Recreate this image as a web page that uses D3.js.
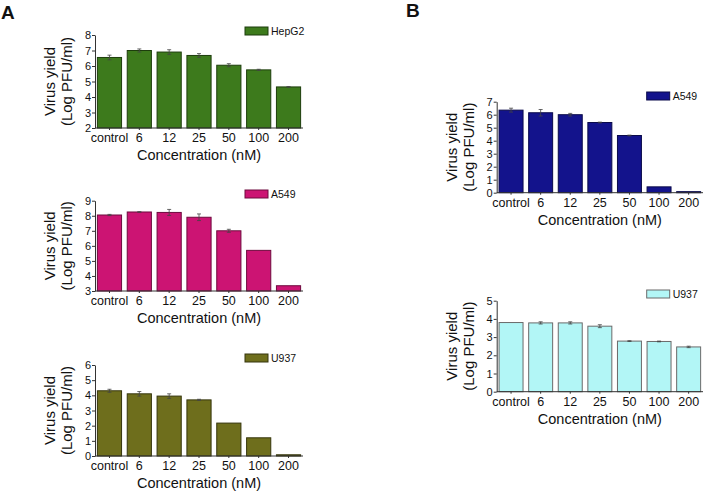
<!DOCTYPE html>
<html><head><meta charset="utf-8">
<script src="https://cdn.jsdelivr.net/npm/d3@7"></script>
<style>body{margin:0;background:#fff}svg{display:block}text{font-family:"Liberation Sans",Arial,sans-serif;fill:#111}</style>
</head><body>
<svg id="c" width="711" height="495"></svg>
<script>
const categories = ["control","6","12","25","50","100","200"];
const hepg2    = [6.55, 7.0, 6.9, 6.68, 6.05, 5.75, 4.65];
const hepg2Err = [0.15, 0.1, 0.15, 0.12, 0.1, 0.04, 0.02];
const a549A    = [8.05, 8.25, 8.22, 7.9, 7.0, 5.7, 3.35];
const a549AErr = [0.04, 0.02, 0.2, 0.22, 0.1, 0, 0];
const u937A    = [4.3, 4.1, 3.95, 3.7, 2.17, 1.2, 0.08];
const u937AErr = [0.1, 0.15, 0.15, 0.04, 0, 0, 0];
const a549B    = [6.35, 6.15, 6.0, 5.4, 4.4, 0.45, 0.08];
const a549BErr = [0.15, 0.25, 0.1, 0.03, 0.03, 0, 0];
const u937B    = [3.8, 3.78, 3.78, 3.6, 2.78, 2.76, 2.46];
const u937BErr = [0, 0.06, 0.06, 0.08, 0.02, 0.02, 0.04];
const panelLabels = ["A","B"];
const yTitle = ["Virus yield","(Log PFU/ml)"];
const xTitle = "Concentration (nM)";

const panels = [
  {name:"HepG2", vals:hepg2, err:hepg2Err, dom:[2,8], fill:"#3d7a1c", stroke:"#1d3d0c", x0:95, x1:303, top:35, bot:128, ly:27},
  {name:"A549",  vals:a549A, err:a549AErr, dom:[3,9], fill:"#cc1473", stroke:"#6e0a3e", x0:95, x1:303, top:200.7, bot:291, ly:190},
  {name:"U937",  vals:u937A, err:u937AErr, dom:[0,6], fill:"#6e6e1c", stroke:"#35350c", x0:95, x1:303, top:365, bot:456, ly:354},
  {name:"A549",  vals:a549B, err:a549BErr, dom:[0,7], fill:"#13138c", stroke:"#0a0a4a", x0:496.7, x1:703, top:101.7, bot:192.7, ly:92},
  {name:"U937",  vals:u937B, err:u937BErr, dom:[0,5], fill:"#b2f6f6", stroke:"#6a6a6a", x0:496.7, x1:703, top:300.7, bot:391.7, ly:290}
];

const svg = d3.select("#c");
svg.append("text").attr("x",1).attr("y",19).style("font-size","19px").style("font-weight","bold").text(panelLabels[0]);
svg.append("text").attr("x",406).attr("y",17).style("font-size","19px").style("font-weight","bold").text(panelLabels[1]);

panels.forEach(p => {
  const x = d3.scaleBand().domain(categories).range([p.x0, p.x1]).paddingInner(0.19).paddingOuter(0.08);
  const y = d3.scaleLinear().domain(p.dom).range([p.bot, p.top]);
  const g = svg.append("g");
  const rows = p.vals.map((v,i)=>({c:categories[i], v:v, e:p.err[i]}));
  g.selectAll("rect.bar").data(rows).join("rect").attr("class","bar")
    .attr("x",d=>x(d.c)).attr("width",x.bandwidth())
    .attr("y",d=>y(d.v)).attr("height",d=>y(p.dom[0])-y(d.v))
    .attr("fill",p.fill).attr("stroke",p.stroke).attr("stroke-width",1);
  // error bars
  const eb = g.selectAll("g.eb").data(rows.filter(d=>d.e>0)).join("g").attr("class","eb")
    .attr("transform",d=>`translate(${x(d.c)+x.bandwidth()/2},0)`);
  eb.append("line").attr("y1",d=>y(d.v-d.e)).attr("y2",d=>y(d.v+d.e)).attr("stroke","#444").attr("stroke-width",0.8);
  eb.append("line").attr("x1",-2).attr("x2",2).attr("y1",d=>y(d.v+d.e)).attr("y2",d=>y(d.v+d.e)).attr("stroke","#444").attr("stroke-width",0.8);
  eb.append("line").attr("x1",-2).attr("x2",2).attr("y1",d=>y(d.v-d.e)).attr("y2",d=>y(d.v-d.e)).attr("stroke","#444").attr("stroke-width",0.8);
  // axes
  const ya = g.append("g").attr("transform",`translate(${p.x0},0)`)
    .call(d3.axisLeft(y).ticks(p.dom[1]-p.dom[0]).tickFormat(d3.format("d")).tickSize(3).tickSizeOuter(0));
  ya.select(".domain").attr("stroke","#333");
  ya.selectAll(".tick line").attr("stroke","#333");
  ya.selectAll(".tick text").style("font-size","11px").attr("x",-4).attr("fill","#111");
  const xa = g.append("g").attr("transform",`translate(0,${p.bot})`)
    .call(d3.axisBottom(x).tickSize(2).tickSizeOuter(0));
  xa.select(".domain").attr("stroke","#333").attr("d",`M${p.x0},0H${p.x1}`);
  xa.selectAll(".tick line").attr("stroke","#333");
  xa.selectAll(".tick text").style("font-size","12.5px").attr("y",5).attr("fill","#111");
  // titles
  const cy = (p.top+p.bot)/2;
  g.append("text").attr("transform",`translate(${p.x0-40},${cy}) rotate(-90)`).attr("text-anchor","middle")
    .style("font-size","15px").text(yTitle[0]);
  g.append("text").attr("transform",`translate(${p.x0-23},${cy}) rotate(-90)`).attr("text-anchor","middle")
    .style("font-size","15px").text(yTitle[1]);
  g.append("text").attr("x",(p.x0+p.x1)/2).attr("y",p.bot+32).attr("text-anchor","middle")
    .style("font-size","14.5px").text(xTitle);
  // legend
  const lx = p.x0+150;
  g.append("rect").attr("x",lx).attr("y",p.ly).attr("width",23).attr("height",8)
    .attr("fill",p.fill).attr("stroke",p.stroke).attr("stroke-width",1);
  g.append("text").attr("x",lx+26).attr("y",p.ly+8).style("font-size","10.5px").text(p.name);
});
</script>
</body></html>
